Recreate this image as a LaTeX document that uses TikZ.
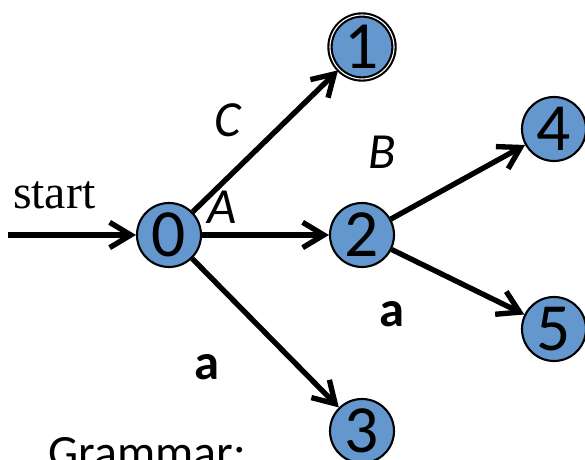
\documentclass[tikz,border=0pt]{standalone}
\usepackage{fontspec}
\setmainfont{Carlito}
\newfontfamily\startfont{Liberation Serif}
\usetikzlibrary{automata,arrows.meta,positioning}
\definecolor{stateblue}{RGB}{99,151,205}

\begin{document}
\begin{tikzpicture}[->, >={Straight Barb[length=15pt,width=18pt]}, line width=3.8pt, node distance=4.825cm]
\tikzstyle{every state}=[fill=stateblue,draw=black,line width=1.5pt,text=black,minimum size=1.6cm,inner sep=0pt,font=\fontsize{48}{48}\selectfont]
\tikzstyle{every edge}=[draw,line width=3.8pt]
\tikzstyle{lbl}=[inner sep=0pt,anchor=center,font=\fontsize{36}{36}\selectfont]
\useasboundingbox (0,0) rectangle (14.625,-11.5);

\node[state]    (q0) at (4.225,-5.875)   {0};
\node[state]    (q2)[right of=q0]   {2};
\node[state,accepting,double distance=0.8pt]    (q1)[above of=q2,node distance=4.7cm]   {1};
\node[state]    (q3)[below of=q2,node distance=4.9cm]   {3};
\node[state]    (q4)[right of=q2,node distance=4.8cm,yshift=2.65cm]   {4};
\node[state]    (q5)[right of=q2,node distance=4.8cm,yshift=-2.35cm]   {5};

\coordinate[left of=q0,node distance=4.025cm] (init);
\node[inner sep=0pt,font=\startfont\fontsize{34}{34}\selectfont,above right=0.575cm and 0.06cm of init] (st) {start};

\draw[line width=3.8pt] (init) -- (q0);
\path
(q0) edge     node[lbl,pos=0.63,xshift=-1.41cm,yshift=0.05cm]   {\textit{C}}   (q1)
(q0) edge     node[lbl,pos=0.16,yshift=0.69cm]   {\textit{A}}   (q2)
(q0) edge     node[lbl,pos=0.5,xshift=-1.46cm,yshift=-0.85cm]   {\textbf{a}}   (q3)
(q2) edge     node[lbl,pos=0.1,xshift=-0.56cm,yshift=1.49cm]   {\textit{B}}   (q4)
(q2) edge     node[lbl,pos=0.2,xshift=-0.65cm,yshift=-1.28cm]   {\textbf{a}}   (q5);

\node[inner sep=0pt,anchor=base west,font=\fontsize{34}{34}\selectfont] (gram) at (1.15,-11.725) {Grammar:};
\end{tikzpicture}
\end{document}
